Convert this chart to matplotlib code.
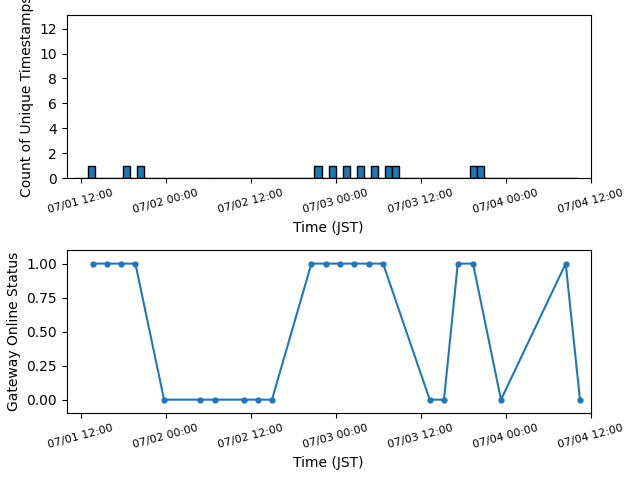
import numpy as np
import pandas as pd
import matplotlib
matplotlib.use('Agg')
import matplotlib.pyplot as plt
import matplotlib.dates as mdates
from matplotlib.ticker import MultipleLocator

## DATA
# timestamps counted in the upper histogram (one per hourly bin)
hist_times = ['2024-07-01 13:30', '2024-07-01 18:30', '2024-07-01 20:30',
              '2024-07-02 21:30', '2024-07-02 23:30', '2024-07-03 01:30',
              '2024-07-03 03:30', '2024-07-03 05:30', '2024-07-03 07:30',
              '2024-07-03 08:30', '2024-07-03 19:30', '2024-07-03 20:30']
hist_start = '2024-07-01 11:00'
hist_end = '2024-07-04 10:00'

# gateway online status
status_times = ['2024-07-01 13:42', '2024-07-01 15:42', '2024-07-01 17:42',
                '2024-07-01 19:43', '2024-07-01 23:46', '2024-07-02 04:50',
                '2024-07-02 06:55', '2024-07-02 11:00', '2024-07-02 13:02',
                '2024-07-02 15:00', '2024-07-02 20:34', '2024-07-02 22:38',
                '2024-07-03 00:37', '2024-07-03 02:35', '2024-07-03 04:42',
                '2024-07-03 06:41', '2024-07-03 13:16', '2024-07-03 15:17',
                '2024-07-03 17:14', '2024-07-03 19:23', '2024-07-03 23:20',
                '2024-07-04 08:28', '2024-07-04 10:29']
status_vals = [1, 1, 1, 1, 0, 0, 0, 0, 0, 0, 1, 1, 1, 1, 1, 1,
               0, 0, 1, 1, 0, 1, 0]

x_start = pd.Timestamp('2024-07-01 10:00')
x_end = pd.Timestamp('2024-07-04 12:00')

ht = mdates.date2num(pd.to_datetime(hist_times))
edges = mdates.date2num(pd.date_range(hist_start, hist_end, freq='h'))
st = pd.to_datetime(status_times)

fig, (ax1, ax2) = plt.subplots(2, 1, figsize=(6.4, 4.8), dpi=100)
fig.subplots_adjust(left=0.104, right=0.923, top=0.969, bottom=0.139, hspace=0.44)

## TOP: histogram of unique timestamps per hour
ax1.hist(ht, bins=edges, edgecolor='black')
ax1.set_ylim(0, 13.1)
ax1.yaxis.set_major_locator(MultipleLocator(2))
ax1.set_ylabel('Count of Unique Timestamps')

## BOTTOM: gateway status
ax2.plot(st, status_vals, marker='o', markersize=3.5)
ax2.set_ylim(-0.1, 1.1)
ax2.set_ylabel('Gateway Online Status')

for ax in (ax1, ax2):
    ax.set_xlim(x_start, x_end)
    ax.xaxis.set_major_locator(mdates.HourLocator(byhour=[0, 12]))
    ax.xaxis.set_major_formatter(mdates.DateFormatter('%m/%d %H:%M'))
    plt.setp(ax.get_xticklabels(), rotation=15, fontsize=8)
    ax.set_xlabel('Time (JST)')

plt.savefig('out.png')
